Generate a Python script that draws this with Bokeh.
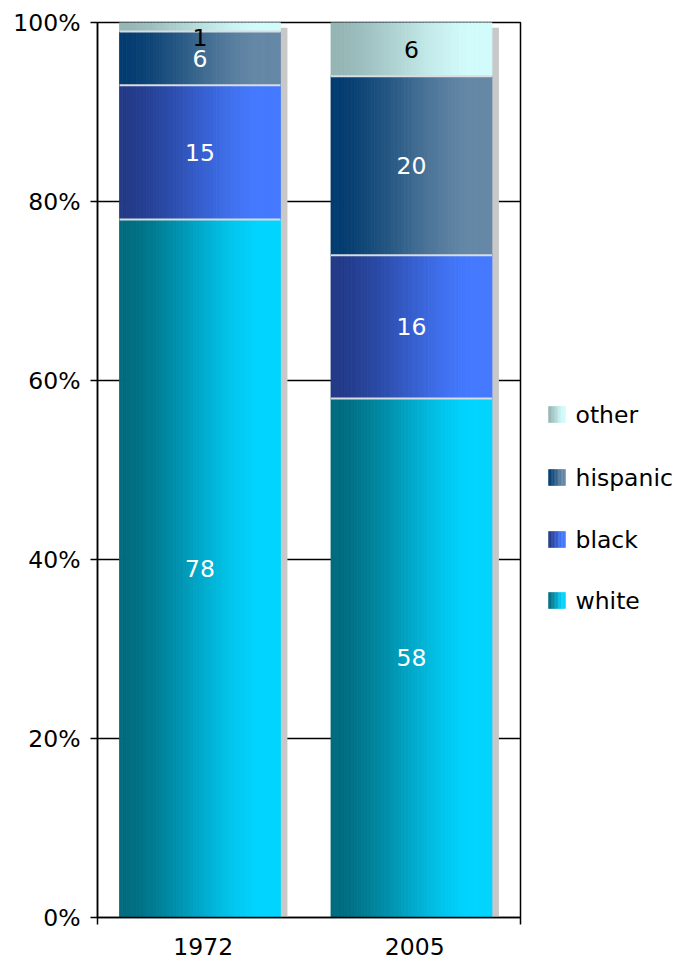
import numpy as np
from bokeh.plotting import figure
from bokeh.layouts import row
from bokeh.models import Range1d, FixedTicker
from bokeh.core.properties import value
from bokeh.embed import file_html
from bokeh.resources import INLINE

# ---------------- data ----------------
years = ["1972", "2005"]
groups = ["white", "black", "hispanic", "other"]
white = [78, 58]
black = [15, 16]
hispanic = [6, 20]
other = [1, 6]
ytick_values = [0, 20, 40, 60, 80, 100]
ytick_labels = ["0%", "20%", "40%", "60%", "80%", "100%"]

series = {"white": white, "black": black, "hispanic": hispanic, "other": other}

# ---------------- style ----------------
FONT = value("DejaVu Sans")
FS = "23.5px"
grad = {
    "white": ("#006c7f", "#00d4ff"),
    "black": ("#223a88", "#4479ff"),
    "hispanic": ("#033c70", "#6488a6"),
    "other": ("#96b6b6", "#d2fbfb"),
}
label_color = {"white": "white", "black": "white", "hispanic": "white", "other": "black"}

BAR_L, BAR_R = 0.104, 0.865
SH_DX, SH_DY = 0.033, 0.6
NSTRIP = 48


def hex2rgb(h):
    h = h.lstrip("#")
    return np.array([int(h[i:i + 2], 16) for i in (0, 2, 4)], dtype=float)


def mix(c1, c2, t):
    s = np.clip((t - 0.05) / 0.8, 0, 1)
    s = s * s * (3 - 2 * s) * 0.5 + s * 0.5
    a, b = hex2rgb(c1), hex2rgb(c2)
    c = a + (b - a) * s
    return "#%02x%02x%02x" % tuple(int(round(v)) for v in c)


p = figure(width=530, height=962, output_backend="svg", toolbar_location=None,
           x_range=Range1d(0, 2), y_range=Range1d(0, 100),
           min_border_left=97, min_border_right=10, min_border_top=22, min_border_bottom=45)
p.background_fill_color = "white"
p.border_fill_color = "white"
p.outline_line_color = "black"
p.outline_line_width = 1.5

# shadows
sh_l, sh_r, sh_t = [], [], []
for i, y in enumerate(years):
    total = sum(series[g][i] for g in groups)
    sh_l.append(i + BAR_L + SH_DX)
    sh_r.append(i + BAR_R + SH_DX)
    sh_t.append(total - SH_DY)
p.quad(left=sh_l, right=sh_r, bottom=[0] * len(years), top=sh_t,
       fill_color="#c8c8c8", line_color=None)

# gradient bars
L, R, B, T, C = [], [], [], [], []
lab_x, lab_y, lab_t, lab_c, lab_off = [], [], [], [], []
sep_x0, sep_x1, sep_y = [], [], []
for i, y in enumerate(years):
    base = 0
    for g in groups:
        v = series[g][i]
        c1, c2 = grad[g]
        for k in range(NSTRIP):
            l = i + BAR_L + (BAR_R - BAR_L) * k / NSTRIP
            r = i + BAR_L + (BAR_R - BAR_L) * (k + 1) / NSTRIP
            L.append(l); R.append(r); B.append(base); T.append(base + v)
            C.append(mix(c1, c2, (k + 0.5) / NSTRIP))
        lab_x.append(i + (BAR_L + BAR_R) / 2)
        lab_y.append(base + v / 2)
        lab_t.append(str(v))
        lab_c.append(label_color[g])
        lab_off.append(11 if v < 3 else 0)
        if base > 0:
            sep_x0.append(i + BAR_L); sep_x1.append(i + BAR_R); sep_y.append(base)
        base += v

p.quad(left=L, right=R, bottom=B, top=T, fill_color=C, line_color=C, line_width=0.8)
p.segment(x0=sep_x0, x1=sep_x1, y0=sep_y, y1=sep_y, line_color="#d8dde2", line_width=2)

p.text(x=lab_x, y=lab_y, text=lab_t, text_color=lab_c, y_offset=lab_off,
       text_font=FONT, text_font_size=FS, text_align="center", text_baseline="middle")

# axes
p.yaxis.ticker = FixedTicker(ticks=ytick_values)
p.yaxis.major_label_overrides = {v: s for v, s in zip(ytick_values, ytick_labels)}
p.yaxis.major_tick_out = 7
p.yaxis.major_tick_in = 0
p.yaxis.minor_tick_line_color = None
p.yaxis.axis_line_width = 1.5
p.yaxis.major_tick_line_width = 1.5
p.yaxis.major_label_standoff = 10

xt = [i + 0.5 for i in range(len(years))]
p.xaxis.ticker = FixedTicker(ticks=xt, minor_ticks=[0, len(years)])
p.xaxis.major_label_overrides = {v: s for v, s in zip(xt, years)}
p.xaxis.major_tick_line_color = None
p.xaxis.major_tick_out = 0
p.xaxis.major_tick_in = 0
p.xaxis.minor_tick_out = 7
p.xaxis.minor_tick_in = 0
p.xaxis.minor_tick_line_color = "black"
p.xaxis.minor_tick_line_width = 1.5
p.xaxis.axis_line_width = 1.5
p.xaxis.major_label_standoff = 13

for ax in (p.xaxis, p.yaxis):
    ax.major_label_text_font = "DejaVu Sans"
    ax.major_label_text_font_size = FS
    ax.major_label_text_color = "black"
    ax.axis_line_color = "black"

p.xgrid.grid_line_color = None
p.ygrid.ticker = FixedTicker(ticks=ytick_values)
p.ygrid.grid_line_color = "black"
p.ygrid.grid_line_width = 1.3

# ---------------- legend (separate panel, frame aligned with main frame) ----------------
leg = figure(width=143, height=962, output_backend="svg", toolbar_location=None,
             x_range=Range1d(0, 143), y_range=Range1d(917, 22),
             x_axis_location=None, y_axis_location=None,
             min_border_left=0, min_border_right=0, min_border_top=22, min_border_bottom=45)
leg.outline_line_color = None
leg.grid.visible = False

leg_order = groups[::-1]
leg_y = [414, 477, 539, 600]
SQ_L, SQ_R, SQ_H = 18, 35, 8
lL, lR, lB, lT, lC = [], [], [], [], []
n = 12
for g, yy in zip(leg_order, leg_y):
    c1, c2 = grad[g]
    for k in range(n):
        lL.append(SQ_L + (SQ_R - SQ_L) * k / n)
        lR.append(SQ_L + (SQ_R - SQ_L) * (k + 1) / n)
        lB.append(yy + SQ_H); lT.append(yy - SQ_H)
        lC.append(mix(c1, c2, (k + 0.5) / n))
leg.quad(left=lL, right=lR, bottom=lB, top=lT, fill_color=lC, line_color=lC, line_width=0.5)
leg.text(x=[45] * len(leg_order), y=leg_y, text=leg_order, text_color="black",
         text_font=FONT, text_font_size=FS, text_align="left", text_baseline="middle")

layout = row(p, leg, spacing=0)
open("out.html", "w").write(file_html(layout, INLINE))
